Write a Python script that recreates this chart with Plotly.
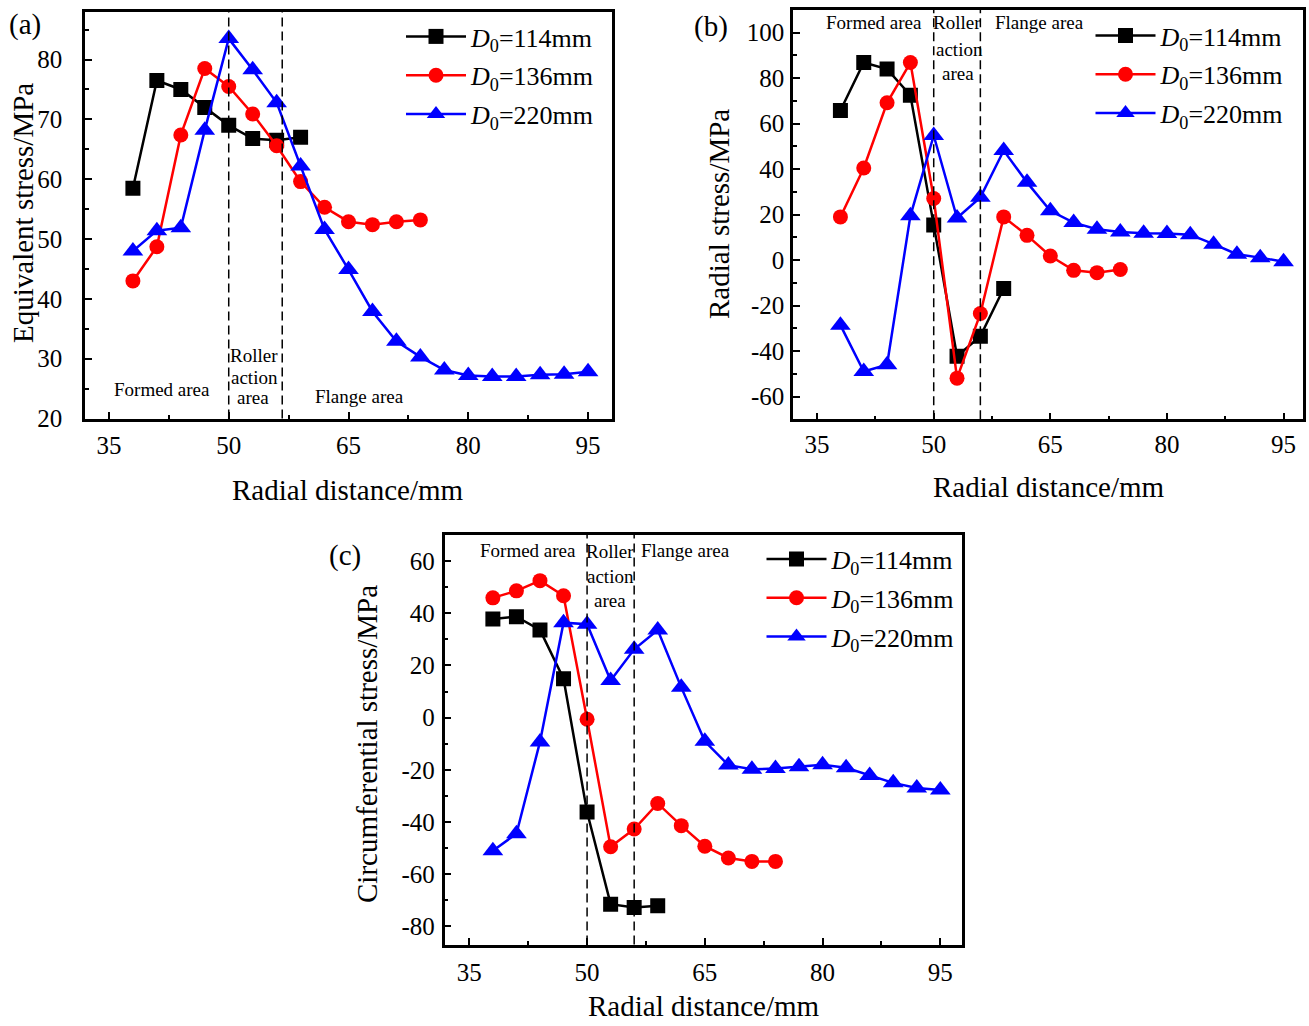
import plotly.graph_objects as go

# Radial positions of the sampling points (mm)
radial_114 = [38, 41, 44, 47, 50, 53, 56, 59]
radial_136 = [38, 41, 44, 47, 50, 53, 56, 59, 62, 65, 68, 71, 74]
radial_220 = [38, 41, 44, 47, 50, 53, 56, 59, 62, 65, 68, 71, 74, 77, 80, 83, 86, 89, 92, 95]

# (a) Equivalent stress (MPa)
equiv_114 = [58.5, 76.5, 75.0, 72.0, 69.0, 66.8, 66.5, 67.0]
equiv_136 = [43.0, 48.7, 67.4, 78.5, 75.5, 70.9, 65.6, 59.6, 55.3, 52.9, 52.4, 52.9, 53.2]
equiv_220 = [48.0, 51.4, 51.9, 68.2, 83.5, 78.3, 72.8, 62.2, 51.6, 44.9, 37.9, 32.9,
             30.3, 28.1, 27.2, 27.0, 27.0, 27.3, 27.4, 27.8]

# (b) Radial stress (MPa)
radial_s_114 = [65.8, 86.9, 84.0, 72.5, 15.5, -42.3, -33.5, -12.5]
radial_s_136 = [19.0, 40.5, 69.2, 86.9, 27.1, -51.9, -23.5, 19.0, 10.9, 1.8, -4.5, -5.5, -4.1]
radial_s_220 = [-28.6, -49.0, -46.0, 19.5, 54.8, 18.5, 27.6, 48.2, 34.2, 21.7, 16.5, 13.6,
                12.4, 11.8, 11.7, 11.2, 7.0, 2.6, 1.1, -0.7]

# (c) Circumferential stress (MPa)
circ_114 = [37.8, 38.7, 33.6, 14.9, -36.2, -71.5, -72.8, -72.1]
circ_136 = [45.9, 48.6, 52.5, 46.7, -0.6, -49.5, -42.7, -32.9, -41.4, -49.3, -53.8, -55.1, -55.1]
circ_220 = [-51.0, -44.5, -9.3, 36.4, 35.8, 14.2, 26.2, 33.6, 11.6, -9.1, -18.2, -19.8,
            -19.5, -18.8, -18.1, -19.2, -22.2, -25.0, -27.0, -27.7]

# Tick values / labels (hyphen minus, as in the original typesetting)
x_ticks = [35, 50, 65, 80, 95]
y_ticks_a = [20, 30, 40, 50, 60, 70, 80]
y_ticks_b = [-60, -40, -20, 0, 20, 40, 60, 80, 100]
y_ticks_c = [-80, -60, -40, -20, 0, 20, 40, 60]

series_names = ["<i>D</i><sub>0</sub>=114mm", "<i>D</i><sub>0</sub>=136mm", "<i>D</i><sub>0</sub>=220mm"]
series_colors = ["#000000", "#FF0000", "#0000FF"]
series_symbols = ["square", "circle", "triangle-up"]
series_sizes = [15, 15, 18]

# Boundaries between the formed / roller action / flange areas (mm)
bounds_a = [50, 56.7]
bounds_b = [50, 56]
bounds_c = [50, 56]

FONT = "Liberation Serif"

panels = [
    dict(ys=[equiv_114, equiv_136, equiv_220], xa="x", ya="y", legend="legend"),
    dict(ys=[radial_s_114, radial_s_136, radial_s_220], xa="x2", ya="y2", legend="legend2"),
    dict(ys=[circ_114, circ_136, circ_220], xa="x3", ya="y3", legend="legend3"),
]
xs = [radial_114, radial_136, radial_220]

fig = go.Figure()
for p in panels:
    for i in range(3):
        fig.add_trace(go.Scatter(
            x=xs[i], y=p["ys"][i], mode="lines+markers",
            name=series_names[i], legend=p["legend"], legendgroup=p["legend"] + str(i),
            line=dict(color=series_colors[i], width=2.5),
            marker=dict(symbol=series_symbols[i], size=series_sizes[i], color=series_colors[i]),
            xaxis=p["xa"], yaxis=p["ya"],
        ))

W, H = 1309, 1026


def px_x(v):
    return v / W


def px_y(v):
    return 1 - v / H


def fmt(v):
    return str(v).replace("\u2212", "-")


def xaxis_cfg(left, right, rng, standoff, anchor):
    return dict(
        domain=[px_x(left), px_x(right)], range=rng, anchor=anchor, automargin=False,
        tickmode="array", tickvals=x_ticks, ticktext=[fmt(v) for v in x_ticks],
        ticks="inside", ticklen=7, tickwidth=2, tickcolor="black",
        minor=dict(ticks="inside", ticklen=4, tickwidth=2, tickcolor="black",
                   tickmode="linear", dtick=7.5, tick0=35),
        showline=True, linewidth=2.5, linecolor="black", mirror=True,
        showgrid=False, zeroline=False,
        tickfont=dict(family=FONT, size=25, color="black"),
        ticklabelstandoff=standoff,
    )


def yaxis_cfg(top, bottom, rng, tickvals, minor, anchor, standoff):
    return dict(
        domain=[px_y(bottom), px_y(top)], range=rng, anchor=anchor, automargin=False,
        tickmode="array", tickvals=tickvals, ticktext=[fmt(v) for v in tickvals],
        ticks="inside", ticklen=7, tickwidth=2, tickcolor="black",
        minor=dict(ticks="inside", ticklen=4, tickwidth=2, tickcolor="black",
                   tickmode="linear", dtick=minor, tick0=0),
        showline=True, linewidth=2.5, linecolor="black", mirror=True,
        showgrid=False, zeroline=False,
        tickfont=dict(family=FONT, size=25, color="black"),
        ticklabelstandoff=standoff,
    )


def legend_cfg(x, y):
    return dict(
        x=px_x(x), y=px_y(y), xanchor="left", yanchor="top",
        bgcolor="rgba(0,0,0,0)", borderwidth=0,
        font=dict(family=FONT, size=26, color="black"),
        itemwidth=60, tracegroupgap=2,
    )


fig.update_layout(
    width=W, height=H, autosize=False,
    margin=dict(l=0, r=0, t=0, b=0, pad=0, autoexpand=False),
    paper_bgcolor="white", plot_bgcolor="white",
    font=dict(family=FONT, color="black"),
    xaxis=xaxis_cfg(85, 612, [32, 98], 3, "y"),
    yaxis=yaxis_cfg(11.7, 418.5, [20, 88], y_ticks_a, 5, "x", 15),
    xaxis2=xaxis_cfg(793, 1303, [31.9, 97.5], 1, "y2"),
    yaxis2=yaxis_cfg(10, 419.3, [-70, 110], y_ticks_b, 10, "x2", 1),
    xaxis3=xaxis_cfg(444.6, 962.3, [31.85, 97.8], 4, "y3"),
    yaxis3=yaxis_cfg(535, 944.6, [-87, 70], y_ticks_c, 10, "x3", 2),
    legend=legend_cfg(401, 13),
    legend2=legend_cfg(1090.5, 12),
    legend3=legend_cfg(761.5, 535.5),
    showlegend=True,
)

# Dashed boundary lines
for xa, ya, bounds in [("x", "y", bounds_a), ("x2", "y2", bounds_b), ("x3", "y3", bounds_c)]:
    for b in bounds:
        fig.add_shape(type="line", xref=xa, yref=ya + " domain", x0=b, x1=b, y0=0, y1=1,
                      line=dict(color="black", width=1.5, dash="9px,5px"))

annotations = []


def text_at(x, y, s, size, **kw):
    annotations.append(dict(x=px_x(x), y=px_y(y), xref="paper", yref="paper", text=s,
                            showarrow=False, xanchor="center", yanchor="middle",
                            font=dict(family=FONT, size=size, color="black"), **kw))


# Area labels
area_size = 19
text_at(161.5, 389, "Formed area", area_size)
text_at(254, 355, "Roller", area_size)
text_at(254, 377, "action", area_size)
text_at(253, 398, "area", area_size)
text_at(359, 396, "Flange area", area_size)

text_at(874, 23, "Formed area", area_size)
text_at(957, 23, "Roller", area_size)
text_at(959, 49, "action", area_size)
text_at(958, 73, "area", area_size)
text_at(1039, 23, "Flange area", area_size)

text_at(528, 550, "Formed area", area_size)
text_at(610, 551, "Roller", area_size)
text_at(610, 576, "action", area_size)
text_at(610, 600, "area", area_size)
text_at(685, 550, "Flange area", area_size)

# Axis titles
title_size = 29
text_at(348, 490, "Radial distance/mm", title_size)
text_at(1049, 487, "Radial distance/mm", title_size)
text_at(704, 1006, "Radial distance/mm", title_size)
text_at(23, 213, "Equivalent stress/MPa", title_size, textangle=-90)
text_at(719, 214, "Radial stress/MPa", title_size, textangle=-90)
text_at(367, 744, "Circumferential stress/MPa", title_size, textangle=-90)

# Panel labels
text_at(25, 24, "(a)", 29)
text_at(711, 26, "(b)", 29)
text_at(345, 555, "(c)", 29)

fig.update_layout(annotations=annotations)

fig.write_html("out.html")
